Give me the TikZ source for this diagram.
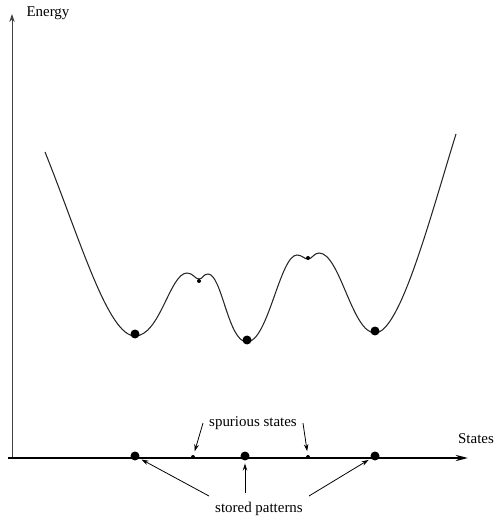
\documentclass[tikz,border=0pt]{standalone}
\usepackage{fontspec}
\setmainfont{Liberation Serif}
\usetikzlibrary{arrows.meta, positioning}

\begin{document}
\begin{tikzpicture}[
    x=0.02cm, y=0.02cm,
    font=\fontsize{8.5}{10}\selectfont,
    yaxis/.style={line width=0.5pt, draw=black!75, -{Stealth[length=4.5pt, width=3pt]}},
    xaxis/.style={line width=1.1pt, -{Stealth[length=7pt, width=3.5pt]}},
    curve/.style={line width=0.6pt, draw=black!85},
    arrow/.style={line width=0.45pt, -{Stealth[length=4pt, width=2.6pt]}},
    bigdot/.style={circle, fill=black, inner sep=0pt, minimum size=0.18cm},
    smalldot/.style={circle, fill=black, inner sep=0pt, minimum size=0.08cm}
]
\useasboundingbox (0,0) rectangle (496,518);

% axes
\coordinate (origin) at (12,60);
\coordinate (ytop) at (12,504);
\coordinate (xleft) at (8,60);
\coordinate (xright) at (468,60);
\draw [yaxis] (origin) -- (ytop);
\draw [xaxis] (xleft) -- (xright);
\node (energy) at (48,505) {Energy};
\node (states) at (476,79) {States};

% energy landscape
\draw [curve] (45,366)
    .. controls (80,279) and (108,182) .. (135,182)
    .. controls (160,182) and (170,245) .. (187,245)
    .. controls (193,245) and (195,239) .. (199,239)
    .. controls (203,239) and (203,244) .. (208,244)
    .. controls (222,244) and (228,176) .. (247,176)
    .. controls (268,176) and (280,263) .. (297,263)
    .. controls (302,263) and (304,259) .. (308,259)
    .. controls (312,259) and (314,265) .. (319,265)
    .. controls (340,265) and (352,185) .. (375,185)
    .. controls (400,185) and (430,300) .. (456,384);

\node (min1) [bigdot] at (135,184) {};
\node (top1) [smalldot] at (199,237) {};
\node (min2) [bigdot] at (247,178) {};
\node (top2) [smalldot] at (308,260) {};
\node (min3) [bigdot] at (375,187) {};

% states on the axis
\node (pat1) [bigdot] at (135,62) {};
\node (spur1) [smalldot] at (193,61) {};
\node (pat2) [bigdot] at (245,62) {};
\node (spur2) [smalldot] at (308,61) {};
\node (pat3) [bigdot] at (375,62) {};

\node (spurious) at (253,95) {spurious states};
\node (stored) at (259,9) {stored patterns};

\draw [arrow, shorten >=2pt] (spurious.west) -- (spur1);
\draw [arrow, shorten >=2pt] (spurious.east) -- (spur2);
\draw [arrow, shorten >=1.5pt] (stored.north west) -- (pat1);
\draw [arrow, shorten <=2pt, shorten >=1.5pt] (stored.north -| pat2) -- (pat2);
\draw [arrow, shorten >=1.5pt] (stored.north east) -- (pat3);

\end{tikzpicture}
\end{document}
